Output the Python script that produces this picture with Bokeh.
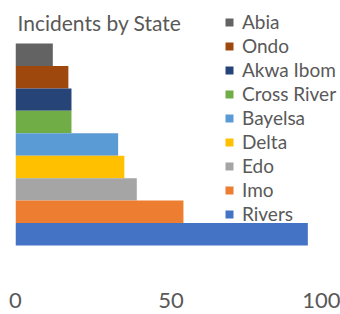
from bokeh.plotting import figure
from bokeh.models import ColumnDataSource, Legend, LegendItem, Label, FixedTicker
from bokeh.embed import file_html
from bokeh.resources import INLINE

title = "Incidents by State"
states = ["Abia", "Ondo", "Akwa Ibom", "Cross River", "Bayelsa", "Delta", "Edo", "Imo", "Rivers"]
incidents = [12, 17, 18, 18, 33, 35, 39, 54, 94]
colors = ["#636363", "#9E480E", "#264478", "#70AD47", "#5B9BD5", "#FFC000", "#A5A5A5", "#ED7D31", "#4472C4"]
x_ticks = [0, 50, 100]

GREY = "#595959"
FONT = "Lato"

W, H = 340, 314
BOTTOM = 24
FRAME_H = H - BOTTOM   # frame height (canvas minus axis area)
PX_PER_BAR = 22.44
BAR_TOP_PX = 43

n = len(states)
y_end = (n - 0.5) + BAR_TOP_PX / PX_PER_BAR
y_start = y_end - FRAME_H / PX_PER_BAR

p = figure(width=W, height=H, output_backend="svg", toolbar_location=None,
           x_range=(0, 325 / 3.11), y_range=(y_start, y_end),
           min_border_left=15, min_border_right=0, min_border_top=0, min_border_bottom=BOTTOM)
p.outline_line_color = None
p.xgrid.visible = False
p.ygrid.visible = False
p.yaxis.visible = False
p.background_fill_color = "white"
p.border_fill_color = "white"

items = []
for i, (s, v, c) in enumerate(zip(states, incidents, colors)):
    src = ColumnDataSource(dict(y=[n - 1 - i], right=[v]))
    r = p.hbar(y="y", right="right", left=0, height=1.0, source=src,
               fill_color=c, line_color=None)
    items.append(LegendItem(label=s, renderers=[r]))

ax = p.xaxis[0]
ax.ticker = FixedTicker(ticks=x_ticks)
ax.axis_line_color = None
ax.major_tick_line_color = None
ax.minor_tick_line_color = None
ax.major_tick_out = 0
ax.major_tick_in = 0
ax.major_label_standoff = 2
ax.major_label_text_font = FONT
ax.major_label_text_font_size = "22px"
ax.major_label_text_color = GREY

legend = Legend(items=items, location=(209, FRAME_H - 225),
                label_text_font=FONT, label_text_font_size="19px", label_text_color=GREY,
                glyph_width=10, glyph_height=10, label_standoff=8,
                label_height=23, spacing=1, padding=0, margin=0,
                border_line_color=None, background_fill_alpha=0)
p.add_layout(legend)

p.add_layout(Label(x=2, y=FRAME_H - 22, x_units="screen", y_units="screen",
                   text=title, text_font=FONT, text_font_size="21px",
                   text_color=GREY, text_baseline="middle"))

open("out.html", "w").write(file_html(p, INLINE))
